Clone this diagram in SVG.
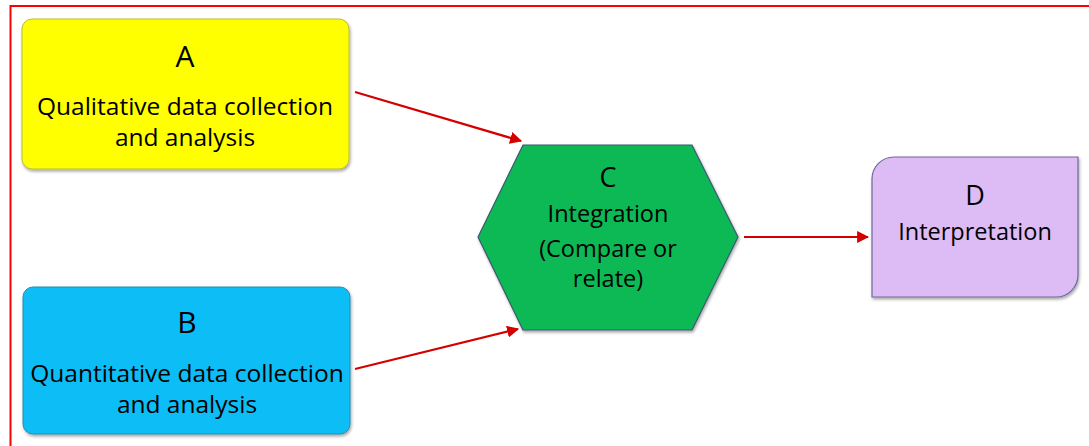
<svg xmlns="http://www.w3.org/2000/svg" width="1089" height="446" viewBox="0 0 1089 446">
  <style>
    .t { font-family: "Open Sans", "Liberation Sans", sans-serif; fill: #000; text-anchor: middle; }
    .big { font-size: 30px; }
    .mid { font-size: 27px; }
    .txt { font-size: 24.5px; }
    .sm { font-size: 23.5px; }
    .conn { stroke: #D40000; stroke-width: 2.2; fill: none; marker-end: url(#ah); }
  </style>
  <defs>
    <marker id="ah" viewBox="0 0 10 10" refX="9" refY="5" markerWidth="5.5" markerHeight="5.5" orient="auto" markerUnits="strokeWidth">
      <path d="M0,0 L10,5 L0,10 Z" fill="#D40000"/>
    </marker>
    <filter id="sh" x="-10%" y="-10%" width="120%" height="125%">
      <feDropShadow dx="1" dy="2" stdDeviation="1.5" flood-color="#000" flood-opacity="0.35"/>
    </filter>
  </defs>
  <rect width="1089" height="446" fill="#fff"/>
  <path d="M10.5,446 V6 H1089" fill="none" stroke="#FF0000" stroke-width="2"/>

  <g id="conns">
    <line class="conn" x1="355" y1="92" x2="521" y2="141"/>
    <line class="conn" x1="355" y1="369" x2="518" y2="329"/>
    <line class="conn" x1="744" y1="237" x2="868" y2="237"/>
  </g>

  <g id="A">
    <rect x="22" y="19" width="327" height="150" rx="10" fill="#FFFF00" stroke="#BDBD30" stroke-width="1" filter="url(#sh)"/>
    <text class="t big" x="185" y="67">A</text>
    <text class="t txt" x="185" y="115">Qualitative data collection</text>
    <text class="t txt" x="185" y="146">and analysis</text>
  </g>

  <g id="B">
    <rect x="23" y="287" width="327" height="147" rx="10" fill="#08BDF6" stroke="#2A8DB0" stroke-width="1" filter="url(#sh)"/>
    <text class="t big" x="187" y="333">B</text>
    <text class="t txt" x="187" y="382">Quantitative data collection</text>
    <text class="t txt" x="187" y="413">and analysis</text>
  </g>

  <g id="C">
    <polygon points="523,145 692,145 738,237 692,330 523,330 478,237" fill="#09B955" stroke="#3B5A70" stroke-width="1.2" filter="url(#sh)"/>
    <text class="t mid" x="608" y="187">C</text>
    <text class="t sm" x="608" y="222">Integration</text>
    <text class="t sm" x="608" y="257">(Compare or</text>
    <text class="t sm" x="608" y="287">relate)</text>
  </g>

  <g id="D">
    <path d="M894,157 H1078 V275 A22,22 0 0 1 1056,297 H872 V179 A22,22 0 0 1 894,157 Z" fill="#DDBBF4" stroke="#6C6A9A" stroke-width="1.2" filter="url(#sh)"/>
    <text class="t mid" x="975" y="205">D</text>
    <text class="t sm" x="975" y="240">Interpretation</text>
  </g>
</svg>
